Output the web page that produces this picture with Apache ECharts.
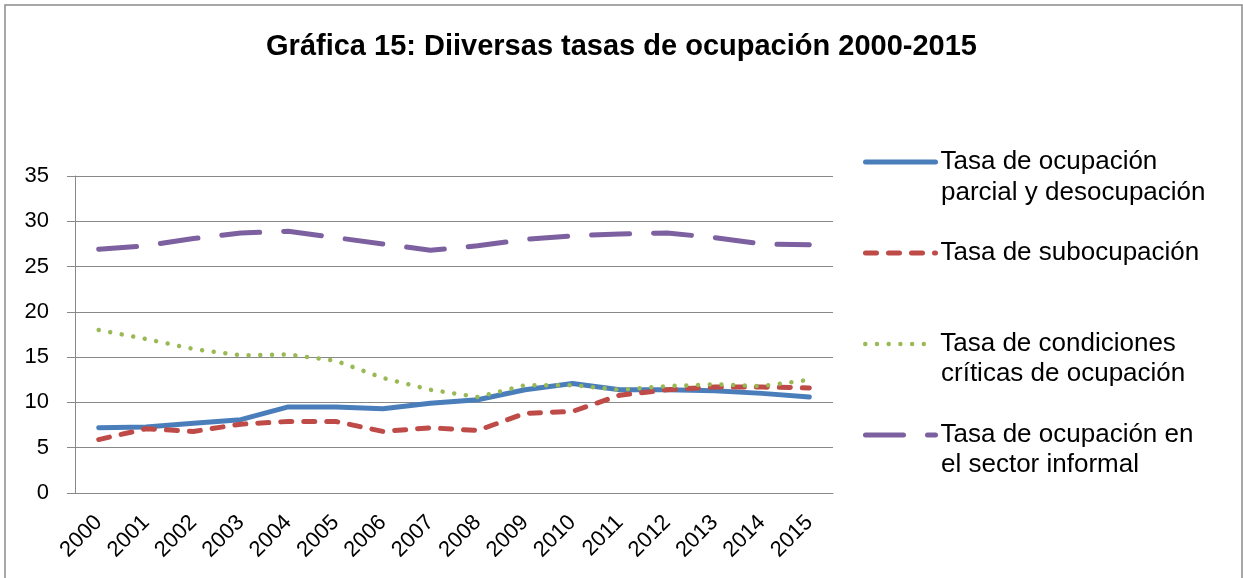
<!DOCTYPE html>
<html lang="es">
<head>
    <meta charset="UTF-8">
    <title>Gráfica 15</title>
    <script src="https://cdn.jsdelivr.net/npm/echarts@6/dist/echarts.min.js"></script>
    <style>
        html, body { margin: 0; padding: 0; background: #fff; }
        #main { width: 1243px; height: 578px; }
    </style>
</head>
<body>
<div id="main"></div>
<script>
    var years = ['2000', '2001', '2002', '2003', '2004', '2005', '2006', '2007',
        '2008', '2009', '2010', '2011', '2012', '2013', '2014', '2015'];
    var parcialDesocupacion = [7.2, 7.3, 7.7, 8.1, 9.5, 9.5, 9.3, 9.9, 10.3, 11.4, 12.1, 11.4, 11.4, 11.3, 11.0, 10.6];
    var subocupacion = [5.9, 7.1, 6.8, 7.6, 7.9, 7.9, 6.8, 7.2, 6.9, 8.8, 9.0, 10.8, 11.4, 11.7, 11.7, 11.6];
    var condicionesCriticas = [18.0, 17.0, 15.9, 15.2, 15.3, 14.6, 12.7, 11.4, 10.6, 11.9, 11.9, 11.4, 11.8, 12.0, 11.8, 12.5];
    var sectorInformal = [26.9, 27.3, 28.1, 28.7, 28.9, 28.2, 27.5, 26.8, 27.3, 28.0, 28.4, 28.6, 28.7, 28.2, 27.5, 27.4];

    var font = 'Liberation Sans, Arial, sans-serif';
    var gridColor = '#888888';

    var chart = echarts.init(document.getElementById('main'));

    // one legend per entry, so each can sit where Excel put it
    function legendAt(name, top, width, dash) {
        return {
            data: [name],
            left: 863,
            top: top,
            padding: 0,
            itemWidth: 70,
            itemHeight: 20,
            itemGap: 0,
            selectedMode: false,
            itemStyle: {opacity: 0},
            lineStyle: {width: width, type: dash, cap: 'round'},
            textStyle: {fontFamily: font, fontSize: 26, lineHeight: 30, color: '#000'}
        };
    }

    function secondLine(text, y) {
        return {
            type: 'text',
            left: 941,
            top: y - 15,
            style: {text: text, font: '26px ' + font, fill: '#000', lineHeight: 30}
        };
    }

    var option = {
        animation: false,
        title: {
            text: 'Gráfica 15: Diiversas tasas de ocupación 2000-2015',
            left: 'center',
            top: 27,
            textStyle: {fontFamily: font, fontSize: 29, fontWeight: 'bold', color: '#000'}
        },
        legend: [
            legendAt('Tasa de ocupación', 147, 5, 'solid'),
            legendAt('Tasa de subocupación', 238, 5, [11, 12]),
            legendAt('Tasa de condiciones', 329, 4.5, [0.01, 11.7]),
            legendAt('Tasa de ocupación en', 420, 5, [38, 24])
        ],
        graphic: [
            {
                type: 'rect',
                shape: {x: 5, y: 5, width: 1237, height: 620},
                style: {fill: 'none', stroke: '#8a8a8a', lineWidth: 1.5},
                silent: true
            },
            secondLine('parcial y desocupación', 193),
            secondLine('críticas de ocupación', 374),
            secondLine('el sector informal', 465)
        ],
        grid: {left: 75, right: 410, top: 176, bottom: 85},
        xAxis: {
            type: 'category',
            data: years,
            boundaryGap: true,
            axisLine: {lineStyle: {color: gridColor, width: 1}},
            axisTick: {length: 6, lineStyle: {color: gridColor}},
            axisLabel: {
                rotate: 45,
                interval: 0,
                margin: 26,
                fontFamily: font,
                fontSize: 22,
                color: '#000'
            }
        },
        yAxis: {
            type: 'value',
            min: 0,
            max: 35,
            interval: 5,
            axisLine: {show: true, lineStyle: {color: gridColor, width: 1}},
            axisTick: {show: true, length: 8, lineStyle: {color: gridColor}},
            axisLabel: {margin: 26, fontFamily: font, fontSize: 22, color: '#000'},
            splitLine: {lineStyle: {color: gridColor, width: 1}}
        },
        series: [
            {
                name: 'Tasa de ocupación',
                type: 'line',
                data: parcialDesocupacion,
                symbol: 'none',
                lineStyle: {color: '#4a7ebb', width: 5, cap: 'round', join: 'round'},
                itemStyle: {color: '#4a7ebb'}
            },
            {
                name: 'Tasa de subocupación',
                type: 'line',
                data: subocupacion,
                symbol: 'none',
                lineStyle: {color: '#be4b48', width: 5, type: [11, 12], cap: 'round', join: 'round'},
                itemStyle: {color: '#be4b48'}
            },
            {
                name: 'Tasa de condiciones',
                type: 'line',
                data: condicionesCriticas,
                symbol: 'none',
                lineStyle: {color: '#98b954', width: 4.5, type: [0.01, 11.7], cap: 'round', join: 'round'},
                itemStyle: {color: '#98b954'}
            },
            {
                name: 'Tasa de ocupación en',
                type: 'line',
                data: sectorInformal,
                symbol: 'none',
                lineStyle: {color: '#7d60a0', width: 5, type: [38, 24], cap: 'round', join: 'round'},
                itemStyle: {color: '#7d60a0'}
            }
        ]
    };
    chart.setOption(option);
</script>
</body>
</html>
